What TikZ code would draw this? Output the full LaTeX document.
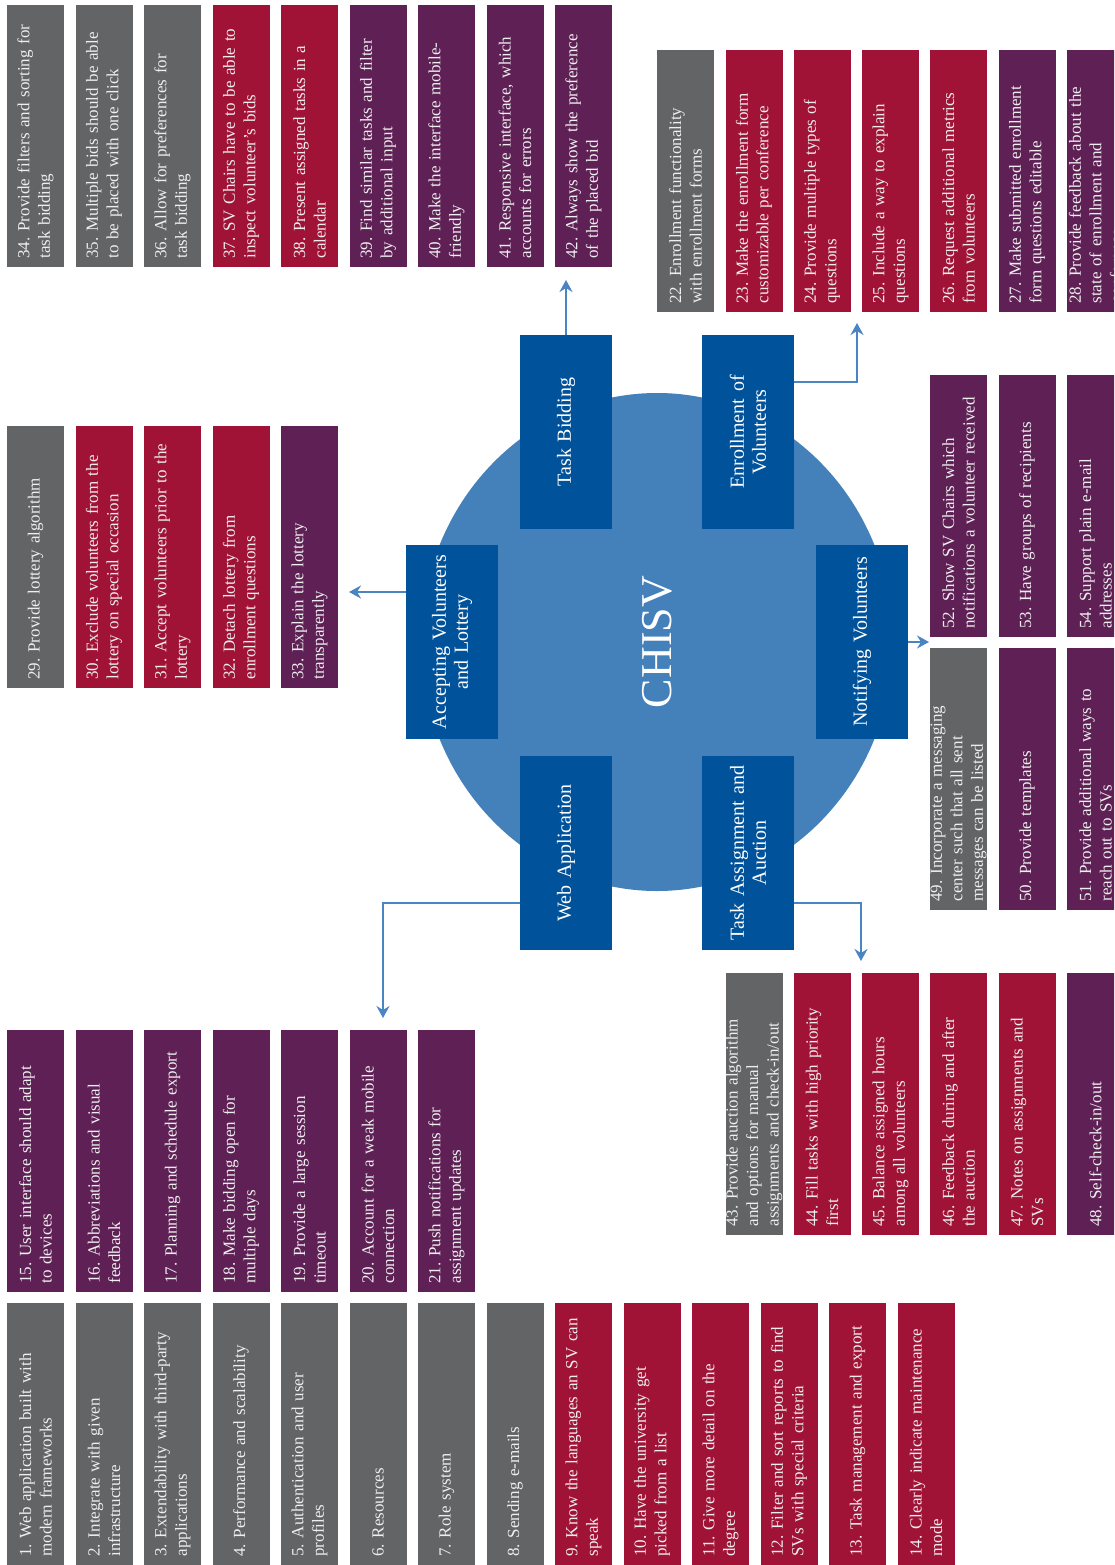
\documentclass[tikz,border=0pt]{standalone}
\usepackage{fontspec}
\setmainfont{Liberation Serif}
\usepackage{xcolor}
\usepackage{tikz}
\usetikzlibrary{shapes.geometric,arrows.meta,positioning,calc}
\definecolor{cBase}{HTML}{636466}
\definecolor{cMust}{HTML}{A01236}
\definecolor{cNice}{HTML}{5E2055}
\definecolor{cModule}{HTML}{00529B}
\definecolor{cHub}{HTML}{4480B9}
\definecolor{cFlow}{HTML}{4A84C2}
\definecolor{cText}{HTML}{EEEEEE}
\newcommand{\reqfont}{\fontsize{17}{20.5}\selectfont\frenchspacing\hyphenpenalty=10000\exhyphenpenalty=10000}
\tikzset{
  req/.style   = {rectangle, fill=#1, draw=none, rotate=90, text=cText,
                  minimum width=262pt, minimum height=57pt, text width=245pt,
                  inner xsep=8.5pt, inner ysep=0pt, align=left, font=\reqfont},
  req/.default = cBase,
  bas/.style   = {req=cBase},
  mst/.style   = {req=cMust},
  nic/.style   = {req=cNice},
  mod/.style   = {rectangle, fill=cModule, draw=none, rotate=90, text=white,
                  minimum width=194pt, minimum height=92pt, text width=180pt,
                  inner sep=0pt, align=center, font=\fontsize{20}{22}\selectfont},
  hub/.style   = {ellipse, fill=cHub, draw=none, rotate=90, text=white,
                  minimum width=498pt, minimum height=472pt, inner sep=0pt,
                  font=\fontsize{44}{44}\selectfont},
  fl/.style    = {-{Stealth[length=12pt,width=13pt,inset=4pt]}, draw=cFlow, line width=2.6pt},
}

\begin{document}
\begin{tikzpicture}[x=1pt, y=-1pt]
  \path[fill=white, use as bounding box] (0,0) rectangle (1114,1565);
  \clip (0,0) rectangle (1114,1565);

  \node[hub] (chisv) at (657,642) {CHISV};

  \node[mod] (bid)    at (566,432) {Task Bidding};
  \node[mod] (enrol)  at (748,432) {Enrollment of\\Volunteers};
  \node[mod] (accept) at (452,642) {Accepting Volunteers\\and Lottery};
  \node[mod] (notify) at (862,642) {Notifying Volunteers};
  \node[mod] (web)    at (566,853) {Web Application};
  \node[mod] (assign) at (748,853) {Task Assignment and\\Auction};

  \node[bas] (r34) at (35.5,136)  {34. Provide filters and sorting for\\task bidding};
  \node[bas] (r35) at (104,136)   {35. Multiple bids should be able\\to be placed with one click};
  \node[bas] (r36) at (172.5,136) {36. Allow for preferences for\\task bidding};
  \node[mst] (r37) at (241,136)   {37. SV Chairs have to be able to\\inspect volunteer’s bids};
  \node[mst] (r38) at (309.5,136) {38. Present assigned tasks in a\\calendar};
  \node[nic] (r39) at (378,136)   {39. Find similar tasks and filter\\by additional input};
  \node[nic] (r40) at (446.5,136) {40. Make the interface mobile-\\friendly};
  \node[nic] (r41) at (515,136)   {41. Responsive interface, which\\accounts for errors};
  \node[nic] (r42) at (583.5,136) {42. Always show the preference\\of the placed bid};

  \node[bas] (r22) at (685.5,181)  {22. Enrollment functionality\\with enrollment forms};
  \node[mst] (r23) at (754,181)    {23. Make the enrollment form\\customizable per conference};
  \node[mst] (r24) at (822,181)    {24. Provide multiple types of\\questions};
  \node[mst] (r25) at (890.5,181)  {25. Include a way to explain\\questions};
  \node[mst] (r26) at (958.5,181)  {26. Request additional metrics\\from volunteers};
  \node[nic] (r27) at (1027,181)   {27. Make submitted enrollment\\form questions editable};
  \node[nic] (r28) at (1095.5,181) {28. Provide feedback about the\\state of enrollment and\\conference};

  \node[bas] (r29) at (35.5,557)  {29. Provide lottery algorithm};
  \node[mst] (r30) at (104,557)   {30. Exclude volunteers from the\\lottery on special occasion};
  \node[mst] (r31) at (172.5,557) {31. Accept volunteers prior to the\\lottery};
  \node[mst] (r32) at (241,557)   {32. Detach lottery from\\enrollment questions};
  \node[nic] (r33) at (309.5,557) {33. Explain the lottery\\transparently};

  \node[nic] (r52) at (958.5,506)  {52. Show SV Chairs which\\notifications a volunteer received};
  \node[nic] (r53) at (1027,506)   {53. Have groups of recipients};
  \node[nic] (r54) at (1095.5,506) {54. Support plain e-mail\\addresses};
  \node[bas] (r49) at (958.5,779)  {49. Incorporate a messaging\\center such that all sent\\messages can be listed};
  \node[nic] (r50) at (1027,779)   {50. Provide templates};
  \node[nic] (r51) at (1095.5,779) {51. Provide additional ways to\\reach out to SVs};

  \node[bas] (r43) at (754,1104)    {43. Provide auction algorithm\\and options for manual\\assignments and check-in/out};
  \node[mst] (r44) at (822,1104)    {44. Fill tasks with high priority\\first};
  \node[mst] (r45) at (890.5,1104)  {45. Balance assigned hours\\among all volunteers};
  \node[mst] (r46) at (958.5,1104)  {46. Feedback during and after\\the auction};
  \node[mst] (r47) at (1027,1104)   {47. Notes on assignments and\\SVs};
  \node[nic] (r48) at (1095.5,1104) {48. Self-check-in/out};

  \node[nic] (r15) at (35.5,1161)  {15. User interface should adapt\\to devices};
  \node[nic] (r16) at (104,1161)   {16. Abbreviations and visual\\feedback};
  \node[nic] (r17) at (172.5,1161) {17. Planning and schedule export};
  \node[nic] (r18) at (241,1161)   {18. Make bidding open for\\multiple days};
  \node[nic] (r19) at (309.5,1161) {19. Provide a large session\\timeout};
  \node[nic] (r20) at (378,1161)   {20. Account for a weak mobile\\connection};
  \node[nic] (r21) at (446.5,1161) {21. Push notifications for\\assignment updates};

  \node[bas] (r1)  at (35.5,1434)  {1. Web application built with\\modern frameworks};
  \node[bas] (r2)  at (104,1434)   {2. Integrate with given\\infrastructure};
  \node[bas] (r3)  at (172.5,1434) {3. Extendability with third-party\\applications};
  \node[bas] (r4)  at (241,1434)   {4. Performance and scalability};
  \node[bas] (r5)  at (309.5,1434) {5. Authentication and user\\profiles};
  \node[bas] (r6)  at (378,1434)   {6. Resources};
  \node[bas] (r7)  at (446.5,1434) {7. Role system};
  \node[bas] (r8)  at (515,1434)   {8. Sending e-mails};
  \node[mst] (r9)  at (583.5,1434) {9. Know the languages an SV can\\speak};
  \node[mst] (r10) at (652,1434)   {10. Have the university get\\picked from a list};
  \node[mst] (r11) at (720.5,1434) {11. Give more detail on the\\degree};
  \node[mst] (r12) at (789,1434)   {12. Filter and sort reports to find\\SVs with special criteria};
  \node[mst] (r13) at (857.5,1434) {13. Task management and export};
  \node[mst] (r14) at (926,1434)   {14. Clearly indicate maintenance\\mode};

  \coordinate (bidtip) at (566,280);
  \coordinate (enrtip) at (857,323);
  \coordinate (acctip) at (349,592);
  \coordinate (nottip) at (929,642);
  \coordinate (webtip) at (383,1018);
  \coordinate (asgtip) at (861,961);

  \draw[fl] (bid.east) -- (bidtip);
  \draw[fl] ([yshift=50pt]enrol.south) -| (enrtip);
  \draw[fl] ([yshift=50pt]accept.north) -- (acctip);
  \draw[fl] (notify.south) -- (nottip);
  \draw[fl] ([yshift=-50pt]web.north) -| (webtip);
  \draw[fl] ([yshift=-50pt]assign.south) -| (asgtip);
\end{tikzpicture}
\end{document}
